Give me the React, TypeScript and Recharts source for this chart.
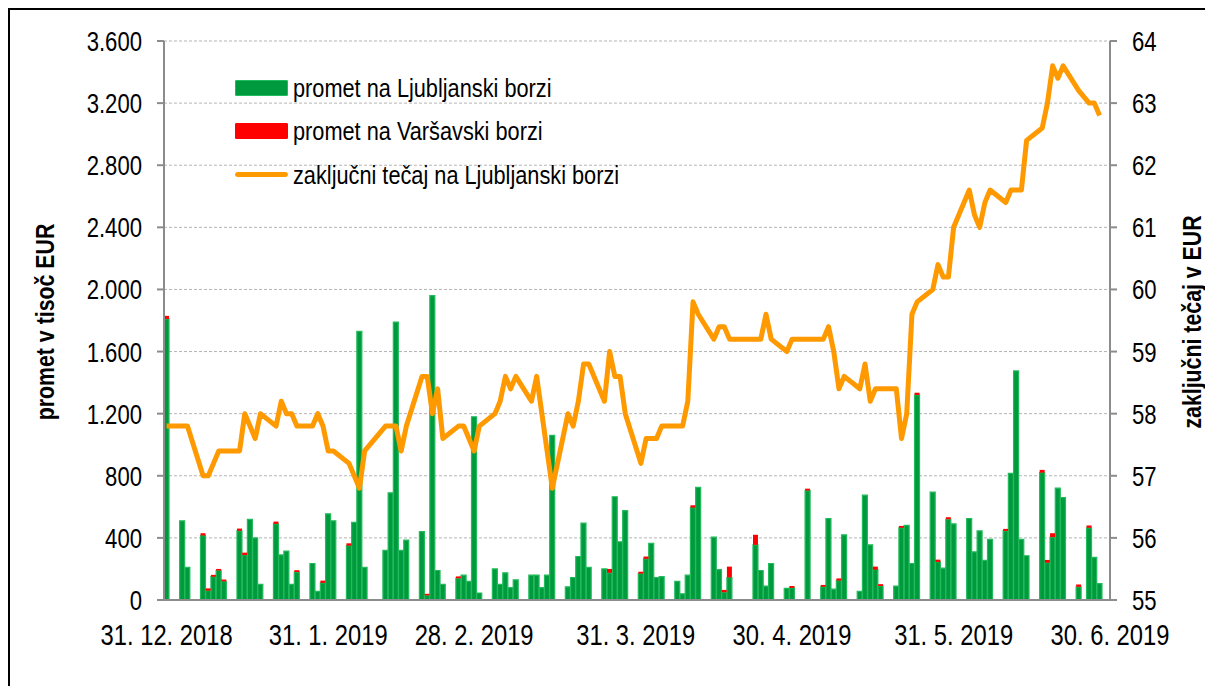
import React from "react";
import {
  ComposedChart,
  Bar,
  Line,
  XAxis,
  YAxis,
  CartesianGrid,
  Legend,
  Label,
} from "recharts";

// trading days, counted in calendar days from 31. 12. 2018
const days = [
  0, 3, 4, 7, 8, 9, 10, 11, 14, 15, 16, 17, 18, 21, 22, 23, 24, 25, 28, 29, 30,
  31, 32, 35, 36, 37, 38, 42, 43, 44, 45, 46, 49, 50, 51, 52, 53, 56, 57, 58, 59,
  60, 63, 64, 65, 66, 67, 70, 71, 72, 73, 74, 77, 78, 79, 80, 81, 84, 85, 86, 87,
  88, 91, 92, 93, 94, 95, 98, 99, 100, 101, 102, 105, 106, 107, 108, 113, 114,
  115, 116, 119, 120, 123, 126, 127, 128, 129, 130, 133, 134, 135, 136, 137, 140,
  141, 142, 143, 144, 147, 148, 149, 150, 151, 154, 155, 156, 157, 158, 161, 162,
  163, 164, 165, 168, 169, 170, 171, 172, 175, 177, 178, 179,
];

// promet na Ljubljanski borzi (tisoč EUR)
const ljubljana = [
  1810, 510, 210, 415, 60, 150, 190, 120, 445, 290, 520, 400, 100, 490, 290, 315,
  100, 180, 235, 55, 110, 555, 510, 350, 500, 1730, 210, 320, 690, 1790, 320, 385,
  440, 30, 1960, 190, 100, 140, 160, 120, 1180, 45, 200, 100, 175, 80, 130, 160,
  160, 80, 160, 1060, 85, 145, 280, 495, 210, 200, 175, 665, 375, 575, 170, 265,
  365, 145, 150, 120, 40, 160, 595, 725, 405, 195, 50, 145, 355, 190, 90, 235, 75,
  78, 705, 85, 525, 70, 125, 420, 55, 675, 355, 195, 90, 90, 465, 480, 235, 1320,
  695, 245, 205, 520, 490, 525, 310, 445, 255, 390, 445, 815, 1475, 390, 285, 820,
  240, 405, 720, 660, 85, 465, 275, 105,
];

// promet na Varšavski borzi (tisoč EUR)
const warsaw = [
  20, 0, 0, 15, 15, 12, 10, 12, 15, 15, 0, 0, 0, 15, 0, 0, 0, 12, 0, 0, 15, 0, 0,
  15, 0, 0, 0, 0, 0, 0, 0, 0, 0, 10, 0, 0, 0, 12, 0, 0, 0, 0, 0, 0, 0, 0, 0, 0, 0,
  0, 0, 0, 0, 0, 0, 0, 0, 0, 25, 0, 0, 0, 12, 15, 0, 0, 0, 0, 0, 0, 15, 0, 0, 0,
  15, 70, 65, 0, 0, 0, 0, 12, 12, 12, 0, 0, 14, 0, 0, 0, 0, 20, 12, 0, 12, 0, 0,
  15, 0, 15, 0, 13, 0, 0, 0, 0, 0, 0, 13, 0, 0, 0, 0, 18, 18, 25, 0, 0, 15, 15, 0,
  0,
];

// zaključni tečaj na Ljubljanski borzi (EUR)
const closePrice = [
  57.8, 57.8, 57.8, 57.0, 57.0, 57.2, 57.4, 57.4, 57.4, 58.0, 57.8, 57.6, 58.0,
  57.8, 58.2, 58.0, 58.0, 57.8, 57.8, 58.0, 57.8, 57.4, 57.4, 57.2, 57.0, 56.8,
  57.4, 57.8, 57.8, 57.8, 57.4, 57.8, 58.6, 58.6, 58.0, 58.4, 57.6, 57.8, 57.8,
  57.6, 57.4, 57.8, 58.0, 58.2, 58.6, 58.4, 58.6, 58.2, 58.6, 58.0, 57.4, 56.8,
  58.0, 57.8, 58.2, 58.8, 58.8, 58.2, 59.0, 58.6, 58.6, 58.0, 57.2, 57.6, 57.6,
  57.6, 57.8, 57.8, 57.8, 58.2, 59.8, 59.6, 59.2, 59.4, 59.4, 59.2, 59.2, 59.2,
  59.6, 59.2, 59.0, 59.2, 59.2, 59.2, 59.4, 59.0, 58.4, 58.6, 58.4, 58.8, 58.2,
  58.4, 58.4, 58.4, 57.6, 58.0, 59.6, 59.8, 60.0, 60.4, 60.2, 60.2, 61.0, 61.6,
  61.2, 61.0, 61.4, 61.6, 61.4, 61.6, 61.6, 61.6, 62.4, 62.6, 63.0, 63.6, 63.4,
  63.6, 63.2, 63.0, 63.0, 62.8,
];

const tickDays = [0, 31, 59, 90, 120, 151, 181];
const tickLabels = [
  "31. 12. 2018",
  "31. 1. 2019",
  "28. 2. 2019",
  "31. 3. 2019",
  "30. 4. 2019",
  "31. 5. 2019",
  "30. 6. 2019",
];
const leftTicks = [0, 400, 800, 1200, 1600, 2000, 2400, 2800, 3200, 3600];
const rightTicks = [55, 56, 57, 58, 59, 60, 61, 62, 63, 64];

const legendItems = [
  { name: "promet na Ljubljanski borzi", type: "rect", color: "#009a3e", edge: "#22bb5b" },
  { name: "promet na Varšavski borzi", type: "rect", color: "#ff0000", edge: "#ff0000" },
  { name: "zaključni tečaj na Ljubljanski borzi", type: "line", color: "#ff9900", edge: "#ff9900" },
];

// the original uses a narrow font, so Liberation Sans is squeezed horizontally
const FONT = '"Liberation Sans", Arial, sans-serif';
const NARROW = 0.82;

const data = days.map((day, i) => ({
  day,
  ljubljana: ljubljana[i],
  warsaw: warsaw[i],
  close: closePrice[i],
}));

const dotThousands = (v: number) =>
  String(v).replace(/\B(?=(\d{3})+(?!\d))/g, ".");

const XTick = (props: any) => {
  const { x, y, payload } = props;
  const idx = tickDays.indexOf(payload.value);
  return (
    <text
      transform={`translate(${x}, ${y}) scale(${NARROW}, 1)`}
      textAnchor="middle"
      dy={21}
      fontFamily={FONT}
      fontSize={29}
      fill="#000"
    >
      {tickLabels[idx]}
    </text>
  );
};

const YTick = (props: any) => {
  const { x, y, payload, textAnchor, format } = props;
  return (
    <text
      transform={`translate(${x}, ${y}) scale(${NARROW}, 1)`}
      textAnchor={textAnchor}
      dy={10}
      fontFamily={FONT}
      fontSize={27}
      fill="#000"
    >
      {format ? format(payload.value) : payload.value}
    </text>
  );
};

const axisTitle = (text: string, x: number, y: number) => () =>
  (
    <text
      transform={`translate(${x}, ${y}) rotate(-90) scale(${NARROW}, 1)`}
      textAnchor="middle"
      dy={9}
      fontFamily={FONT}
      fontWeight="bold"
      fontSize={26}
      fill="#000"
    >
      {text}
    </text>
  );

const renderLegend = () => (
  <div style={{ fontFamily: FONT, fontSize: 26.5, color: "#000", whiteSpace: "nowrap" }}>
    {legendItems.map((item) => (
      <div
        key={item.name}
        style={{ display: "flex", alignItems: "center", height: 43.5 }}
      >
        <div
          style={{
            width: 53,
            height: item.type === "line" ? 5 : 16,
            borderRadius: item.type === "line" ? 3 : 1,
            background: item.color,
            marginRight: 5,
            boxSizing: "border-box",
            border: `1.5px solid ${item.edge}`,
            flex: "none",
          }}
        />
        <span
          style={{
            display: "inline-block",
            lineHeight: 1,
            transform: `scaleX(${NARROW})`,
            transformOrigin: "left center",
          }}
        >
          {item.name}
        </span>
      </div>
    ))}
  </div>
);

export default function App() {
  return (
    <div
      style={{
        position: "absolute",
        left: 0,
        top: 0,
        width: 1205,
        height: 686,
        overflow: "hidden",
        background: "#fff",
      }}
    >
      <div
        style={{
          position: "absolute",
          left: 8,
          top: 8,
          width: 1210,
          height: 700,
          borderTop: "2px solid #000",
          borderLeft: "2px solid #000",
        }}
      />
      <div style={{ position: "absolute", left: 0, top: 0 }}>
        <ComposedChart
          width={1205}
          height={686}
          data={data}
          margin={{ top: 41, right: 35, bottom: 46, left: 104 }}
        >
          <CartesianGrid
            yAxisId="left"
            vertical={false}
            stroke="#b4b4b4"
            strokeDasharray="3 2"
          />
          <XAxis
            dataKey="day"
            type="number"
            domain={[-0.5, 181]}
            ticks={tickDays}
            interval={0}
            tickLine={false}
            tickSize={8}
            tickMargin={16}
            axisLine={{ stroke: "#8c8c8c", strokeWidth: 2 }}
            tick={<XTick />}
            height={40}
          />
          <YAxis
            yAxisId="left"
            domain={[0, 3600]}
            ticks={leftTicks}
            interval={0}
            width={60}
            tickSize={7}
            tickMargin={15}
            axisLine={{ stroke: "#8c8c8c", strokeWidth: 2 }}
            tickLine={{ stroke: "#8c8c8c", strokeWidth: 2 }}
            tick={<YTick format={dotThousands} />}
          >
            <Label content={axisTitle("promet v tisoč EUR", 45, 322)} />
          </YAxis>
          <YAxis
            yAxisId="right"
            orientation="right"
            domain={[55, 64]}
            ticks={rightTicks}
            interval={0}
            width={60}
            tickSize={7}
            tickMargin={15}
            axisLine={{ stroke: "#8c8c8c", strokeWidth: 2 }}
            tickLine={{ stroke: "#8c8c8c", strokeWidth: 2 }}
            tick={<YTick />}
          >
            <Label content={axisTitle("zaključni tečaj v EUR", 1192, 322)} />
          </YAxis>
          <Legend
            layout="horizontal"
            verticalAlign="middle"
            align="center"
            content={renderLegend}
            wrapperStyle={{ top: 66, left: 235, width: 440, height: 135 }}
          />
          <Bar
            yAxisId="left"
            dataKey="ljubljana"
            stackId="promet"
            fill="#009a3e"
            stroke="#22bb5b"
            strokeWidth={1.2}
            barSize={5}
            isAnimationActive={false}
          />
          <Bar
            yAxisId="left"
            dataKey="warsaw"
            stackId="promet"
            fill="#ff0000"
            barSize={5}
            isAnimationActive={false}
          />
          <Line
            yAxisId="right"
            dataKey="close"
            type="linear"
            stroke="#ff9900"
            strokeWidth={5}
            strokeLinejoin="round"
            dot={false}
            activeDot={false}
            isAnimationActive={false}
          />
        </ComposedChart>
      </div>
    </div>
  );
}
